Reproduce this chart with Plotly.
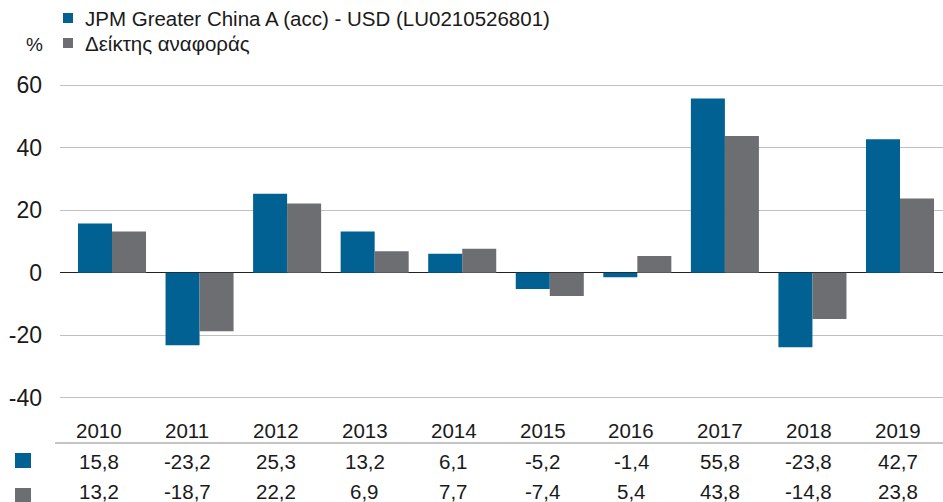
import plotly.graph_objects as go

years = ["2010", "2011", "2012", "2013", "2014", "2015", "2016", "2017", "2018", "2019"]
fund_name = "JPM Greater China A (acc) - USD (LU0210526801)"
bench_name = "Δείκτης αναφοράς"
fund_values = [15.8, -23.2, 25.3, 13.2, 6.1, -5.2, -1.4, 55.8, -23.8, 42.7]
bench_values = [13.2, -18.7, 22.2, 6.9, 7.7, -7.4, 5.4, 43.8, -14.8, 23.8]
y_ticks = [-40, -20, 0, 20, 40, 60]

BLUE = "#006192"
GREY = "#6d6e71"
TXT = "#1a1a1a"
FONT = "Liberation Sans, Arial, sans-serif"

W, H = 943, 502
ML, MR, MT, MB = 60, 0, 79, 98
plot_h = H - MT - MB
plot_w = W - ML - MR

def py(p):
    return (H - MB - p) / plot_h

def px(p):
    return (p - ML) / plot_w

def fmt(v):
    return f"{v:.1f}".replace(".", ",")

# category layout (bar centres 112 .. 900 px, plot 60 .. 943 px)
step = (900 - 112) / (len(years) - 1)
x_min = -(112 - ML) / step
x_max = (len(years) - 1) + (W - MR - 900) / step

fig = go.Figure()
fig.add_trace(go.Bar(x=years, y=fund_values, name=fund_name, marker_color=BLUE, marker_line_width=0))
fig.add_trace(go.Bar(x=years, y=bench_values, name=bench_name, marker_color=GREY, marker_line_width=0))

annotations = []
for i, yr in enumerate(years):
    col_x = px(98.5 + 88.8 * i)
    for txt, ypix in ((yr, 430), (fmt(fund_values[i]), 461), (fmt(bench_values[i]), 491.5)):
        annotations.append(dict(x=col_x, y=py(ypix), xref="paper", yref="paper", text=txt, showarrow=False,
                                font=dict(size=20.5, color=TXT, family=FONT),
                                xanchor="center", yanchor="middle"))

# legend (top left)
for name, ypix in ((fund_name, 18.5), (bench_name, 44)):
    annotations.append(dict(x=px(83), y=py(ypix), xref="paper", yref="paper", text=name, showarrow=False,
                            font=dict(size=20.5, color=TXT, family=FONT), xanchor="left", yanchor="middle"))
annotations.append(dict(x=px(34), y=py(44.5), xref="paper", yref="paper", text="%", showarrow=False,
                        font=dict(size=19, color=TXT, family=FONT), xanchor="center", yanchor="middle"))

shapes = [
    dict(type="line", xref="paper", yref="paper", x0=px(55), x1=1.0,
         y0=py(443), y1=py(443), line=dict(color="#8c8c8c", width=1.2)),
    dict(type="rect", xref="paper", yref="paper", x0=px(15), x1=px(31),
         y0=py(468), y1=py(453), fillcolor=BLUE, line_width=0),
    dict(type="rect", xref="paper", yref="paper", x0=px(15), x1=px(31),
         y0=py(502), y1=py(488), fillcolor=GREY, line_width=0),
    dict(type="rect", xref="paper", yref="paper", x0=px(63), x1=px(73),
         y0=py(23), y1=py(13), fillcolor=BLUE, line_width=0),
    dict(type="rect", xref="paper", yref="paper", x0=px(63), x1=px(73),
         y0=py(48), y1=py(38), fillcolor=GREY, line_width=0),
]

fig.update_layout(
    width=W, height=H,
    margin=dict(l=ML, r=MR, t=MT, b=MB),
    paper_bgcolor="white", plot_bgcolor="white",
    barmode="group", bargap=0.223, bargroupgap=0,
    font=dict(family=FONT, color=TXT),
    showlegend=False,
    xaxis=dict(type="category", range=[x_min, x_max], showticklabels=False,
               showgrid=False, zeroline=False, showline=False, ticks=""),
    yaxis=dict(range=[-42, 62], tickvals=y_ticks, ticktext=[str(v) for v in y_ticks],
               showgrid=True, gridcolor="#c0c0c0", gridwidth=1.4,
               zeroline=True, zerolinecolor="#222222", zerolinewidth=1.4,
               tickfont=dict(size=23, family=FONT, color=TXT), ticklabelstandoff=17, ticks=""),
    annotations=annotations,
    shapes=shapes,
)

fig.write_html("out.html", config={"displayModeBar": False},
               post_script="document.body.style.margin='0';document.body.style.padding='0';document.body.style.overflow='hidden';")
